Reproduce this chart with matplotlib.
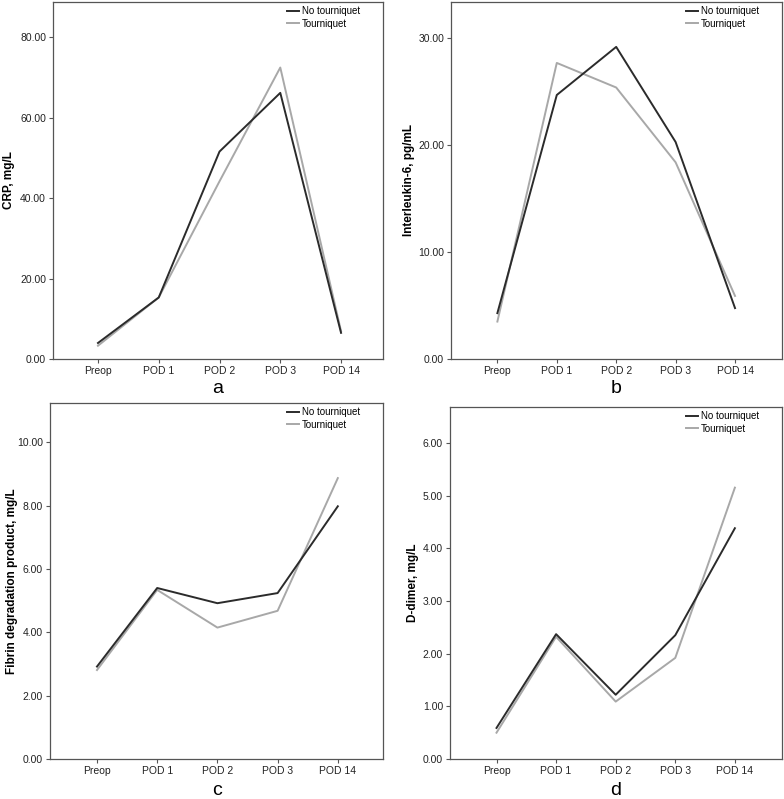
import matplotlib
matplotlib.use("Agg")
import matplotlib.pyplot as plt
from matplotlib.ticker import FormatStrFormatter

plt.rcParams['font.family'] = ['Liberation Sans', 'DejaVu Sans']

categories = ["Preop", "POD 1", "POD 2", "POD 3", "POD 14"]

crp_no = [3.98, 15.3, 51.6, 66.2, 6.5]
crp_t = [3.3, 15.3, 44.2, 72.5, 6.9]

il6_no = [4.29, 24.7, 29.2, 20.3, 4.76]
il6_t = [3.5, 27.7, 25.4, 18.4, 5.9]

fdp_no = [2.92, 5.40, 4.92, 5.24, 7.98]
fdp_t = [2.81, 5.34, 4.15, 4.68, 8.87]

dd_no = [0.59, 2.37, 1.22, 2.35, 4.38]
dd_t = [0.50, 2.32, 1.09, 1.92, 5.15]

panels = [
    dict(no=crp_no, t=crp_t, ylabel="CRP, mg/L", yticks=[0, 20, 40, 60, 80], ymax=88.8,
         letter="a", pos=[0.0676, 0.5507, 0.4209, 0.4468], xl=(-0.74, 4.69), ylx=-0.115, ly=0.5085),
    dict(no=il6_no, t=il6_t, ylabel="Interleukin-6, pg/mL", yticks=[0, 10, 20, 30], ymax=33.4,
         letter="b", pos=[0.5753, 0.5507, 0.4221, 0.4468], xl=(-0.78, 4.79), ylx=-0.109, ly=0.5085),
    dict(no=fdp_no, t=fdp_t, ylabel="Fibrin degradation product, mg/L", yticks=[0, 2, 4, 6, 8, 10], ymax=11.24,
         letter="c", pos=[0.0638, 0.0500, 0.4247, 0.4456], xl=(-0.78, 4.75), ylx=-0.096, ly=0.005),
    dict(no=dd_no, t=dd_t, ylabel="D-dimer, mg/L", yticks=[0, 1, 2, 3, 4, 5, 6], ymax=6.68,
         letter="d", pos=[0.5740, 0.0500, 0.4234, 0.4406], xl=(-0.78, 4.79), ylx=-0.093, ly=0.005),
]

fig = plt.figure(figsize=(7.84, 7.99), dpi=100)
x = list(range(len(categories)))
for p in panels:
    ax = fig.add_axes(p["pos"])
    ax.plot(x, p["no"], color="#2b2b2b", lw=1.4, label="No tourniquet", zorder=3)
    ax.plot(x, p["t"], color="#a8a8a8", lw=1.4, label="Tourniquet", zorder=2)
    ax.set_xlim(*p["xl"])
    ax.set_ylim(0, p["ymax"])
    ax.set_yticks(p["yticks"])
    ax.yaxis.set_major_formatter(FormatStrFormatter("%.2f"))
    ax.set_xticks(x)
    ax.set_xticklabels(categories)
    ax.tick_params(axis="both", labelsize=7.5, color="#555555", length=3, width=0.8,
                   labelcolor="#222222", pad=2)
    for s in ax.spines.values():
        s.set_color("#555555")
        s.set_linewidth(0.9)
    ax.set_ylabel(p["ylabel"], fontsize=8.5, fontweight="bold")
    ax.yaxis.set_label_coords(p["ylx"], 0.5)
    l, b, w, h = p["pos"]
    fig.text(l + w / 2, p["ly"], p["letter"], fontsize=14, ha="center", va="baseline")
    ax.legend(loc="upper right", bbox_to_anchor=(0.955, 1.01), frameon=False,
              fontsize=7, handlelength=1.3, handletextpad=0.3, labelspacing=0.25,
              borderpad=0.3)

fig.savefig("out.png", dpi=100)
